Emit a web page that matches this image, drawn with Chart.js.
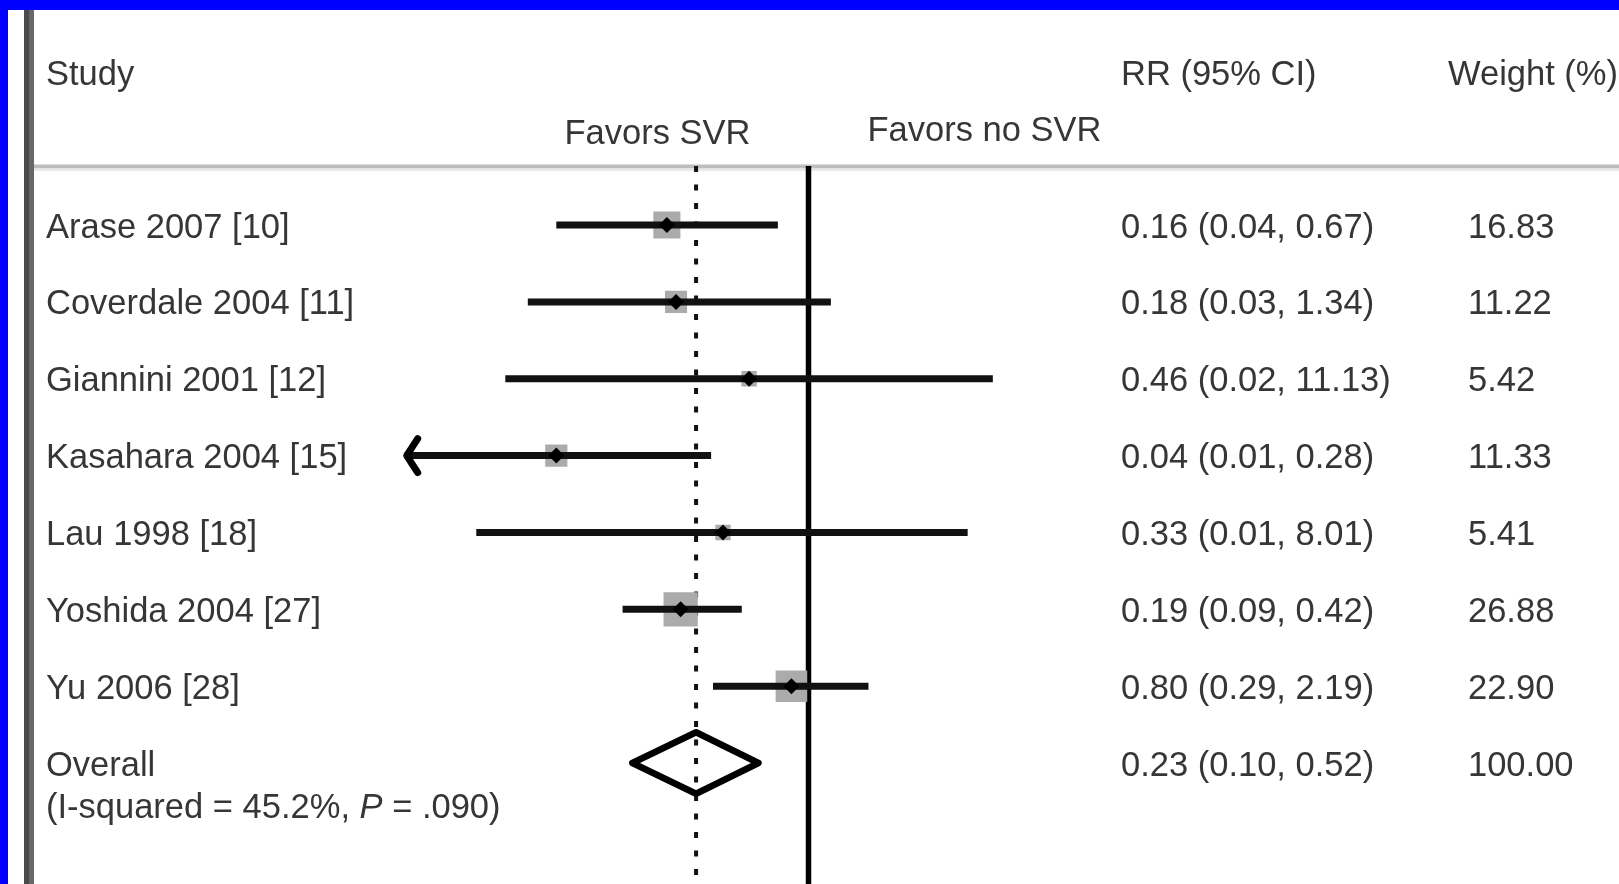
<!DOCTYPE html>
<html>
<head>
<meta charset="utf-8">
<title>Forest plot: SVR and risk ratio</title>
<script src="https://cdn.jsdelivr.net/npm/chart.js@4.4.0/dist/chart.umd.min.js"></script>
<style>
  html, body { margin: 0; padding: 0; background: #fff; overflow: hidden; }
  #wrap { position: relative; width: 1619px; height: 884px; }
  #forest { position: absolute; left: 0; top: 0; }
  .frame-top { position: absolute; left: 0; top: 0; width: 1619px; height: 10px; background: #0000ff; }
  .frame-left { position: absolute; left: 0; top: 0; width: 8px; height: 884px; background: #0000ff; }
  .rule-dark { position: absolute; left: 24px; top: 10px; width: 5px; height: 874px; background: #4a4a4a; }
  .rule-mid { position: absolute; left: 29px; top: 10px; width: 5px; height: 874px; background: #676767; }
</style>
</head>
<body>
<div id="wrap">
  <canvas id="forest" width="1619" height="884"></canvas>
  <div class="rule-dark"></div>
  <div class="rule-mid"></div>
  <div class="frame-top"></div>
  <div class="frame-left"></div>
</div>
<script>
// ---- study data ----
const studies = ['Arase 2007 [10]', 'Coverdale 2004 [11]', 'Giannini 2001 [12]',
                 'Kasahara 2004 [15]', 'Lau 1998 [18]', 'Yoshida 2004 [27]', 'Yu 2006 [28]'];
const riskRatio = [0.157, 0.177, 0.46, 0.037, 0.327, 0.188, 0.80];
const ciLower   = [0.037, 0.0255, 0.019, 0.00501, 0.013, 0.088, 0.287];
const ciUpper   = [0.67, 1.34, 11.13, 0.28, 8.01, 0.418, 2.19];
const weights   = [16.83, 11.22, 5.42, 11.33, 5.41, 26.88, 22.90];

// ---- pooled estimate ----
const overallLabel = 'Overall';
const overallRR = 0.23;
const overallLower = 0.10;
const overallUpper = 0.52;
const overallWeight = 100.00;
const heterogeneityText = ['(I-squared = 45.2%, ', 'P', ' = .090)'];

// ---- column headings ----
const headStudy = 'Study';
const headRR = 'RR (95% CI)';
const headWeight = 'Weight (%)';
const favorsLeft = 'Favors SVR';
const favorsRight = 'Favors no SVR';

// ---- styling ----
const FONT = '"Liberation Sans", Arial, Helvetica, sans-serif';
const FONT_SIZE = 34.5;
const TEXT_COLOR = '#363636';
const AXIS_MIN = 0.0051;          // left end of the log axis; CIs beyond get an arrow
const BOX_SCALE = 6.6;            // square side = BOX_SCALE * sqrt(weight)
const DIAMOND_HALF = 0.40;        // half height of the pooled diamond, in rows
const overallRow = studies.length;

const fmt = v => v.toFixed(2);

// ---- datasets ----
const datasets = [];

// weight boxes (drawn first, underneath)
datasets.push({
  data: riskRatio.map((v, i) => ({ x: v, y: i })),
  pointStyle: 'rect',
  pointRadius: weights.map(w => BOX_SCALE * Math.sqrt(w) / Math.SQRT2),
  pointBackgroundColor: '#ababab',
  pointBorderWidth: 0,
  showLine: false,
  order: 3
});

// confidence interval bars
studies.forEach((s, i) => {
  datasets.push({
    data: [{ x: ciLower[i], y: i }, { x: ciUpper[i], y: i }],
    showLine: true,
    borderColor: '#111',
    borderWidth: 7,
    borderCapStyle: 'butt',
    pointRadius: 0,
    order: 2
  });
});

// point estimates
datasets.push({
  data: riskRatio.map((v, i) => ({ x: v, y: i })),
  pointStyle: 'rectRot',
  pointRadius: 8,
  pointBackgroundColor: '#000',
  pointBorderWidth: 0,
  showLine: false,
  order: 1
});

// pooled diamond
datasets.push({
  data: [
    { x: overallLower, y: overallRow },
    { x: overallRR, y: overallRow - DIAMOND_HALF },
    { x: overallUpper, y: overallRow },
    { x: overallRR, y: overallRow + DIAMOND_HALF },
    { x: overallLower, y: overallRow }
  ],
  showLine: true,
  fill: false,
  tension: 0,
  borderColor: '#000',
  borderWidth: 6.5,
  borderJoinStyle: 'round',
  borderCapStyle: 'round',
  pointRadius: 0,
  order: 0
});

// ---- decorations: reference lines, arrows, text columns ----
const forestDecor = {
  id: 'forestDecor',
  beforeDraw(chart) {
    const ctx = chart.ctx;
    ctx.save();
    ctx.fillStyle = '#bdbdbd';
    ctx.fillRect(29, 164.5, 1619 - 29, 4);
    ctx.fillStyle = '#e8e8e8';
    ctx.fillRect(29, 168.5, 1619 - 29, 2.5);
    ctx.restore();
  },
  beforeDatasetsDraw(chart) {
    const ctx = chart.ctx, xs = chart.scales.x, area = chart.chartArea;
    ctx.save();
    // line of no effect
    const x1 = xs.getPixelForValue(1);
    ctx.strokeStyle = '#000';
    ctx.lineWidth = 5.5;
    ctx.beginPath();
    ctx.moveTo(x1, area.top);
    ctx.lineTo(x1, area.bottom);
    ctx.stroke();
    // dotted line at the pooled estimate
    const xo = xs.getPixelForValue(overallRR);
    ctx.strokeStyle = '#111';
    ctx.lineWidth = 4;
    ctx.setLineDash([6, 12.5]);
    ctx.beginPath();
    ctx.moveTo(xo, area.top);
    ctx.lineTo(xo, area.bottom);
    ctx.stroke();
    ctx.restore();
  },
  afterDatasetsDraw(chart) {
    const ctx = chart.ctx, xs = chart.scales.x, ys = chart.scales.y, area = chart.chartArea;
    ctx.save();

    // arrows where an interval runs past the axis
    ctx.strokeStyle = '#000';
    ctx.lineWidth = 7;
    ctx.lineJoin = 'round';
    ctx.lineCap = 'round';
    studies.forEach((s, i) => {
      const y = ys.getPixelForValue(i);
      if (ciLower[i] < xs.min) {
        const x = area.left;
        ctx.beginPath();
        ctx.moveTo(x + 13, y - 17);
        ctx.lineTo(x + 2, y);
        ctx.lineTo(x + 13, y + 17);
        ctx.stroke();
      }
      if (ciUpper[i] > xs.max) {
        const x = area.right;
        ctx.beginPath();
        ctx.moveTo(x - 13, y - 17);
        ctx.lineTo(x - 2, y);
        ctx.lineTo(x - 13, y + 17);
        ctx.stroke();
      }
    });

    // text
    const font = (style) => `${style || ''} ${FONT_SIZE}px ${FONT}`.trim();
    ctx.fillStyle = TEXT_COLOR;
    ctx.font = font();
    ctx.textBaseline = 'alphabetic';
    ctx.textAlign = 'left';

    const colStudy = 46, colRR = 1121, colWeight = 1468;
    const base = 12.5;

    // headings
    ctx.fillText(headStudy, colStudy, 85);
    ctx.fillText(headRR, colRR, 85);
    ctx.fillText(headWeight, 1448, 85);
    const x1 = xs.getPixelForValue(1);
    ctx.textAlign = 'right';
    ctx.fillText(favorsLeft, x1 - 58, 144);
    ctx.textAlign = 'left';
    ctx.fillText(favorsRight, x1 + 59, 141);

    // study rows
    studies.forEach((s, i) => {
      const y = ys.getPixelForValue(i) + base;
      ctx.fillText(s, colStudy, y);
      ctx.fillText(`${fmt(riskRatio[i])} (${fmt(ciLower[i])}, ${fmt(ciUpper[i])})`, colRR, y);
      ctx.fillText(fmt(weights[i]), colWeight, y);
    });

    // pooled row
    const yo = ys.getPixelForValue(overallRow) + base;
    ctx.fillText(overallLabel, colStudy, yo);
    ctx.fillText(`${fmt(overallRR)} (${fmt(overallLower)}, ${fmt(overallUpper)})`, colRR, yo);
    ctx.fillText(fmt(overallWeight), colWeight, yo);

    // heterogeneity line, with italic P
    let hx = colStudy;
    const yh = yo + 42;
    heterogeneityText.forEach((part, k) => {
      ctx.font = k === 1 ? font('italic') : font();
      ctx.fillText(part, hx, yh);
      hx += ctx.measureText(part).width;
    });

    ctx.restore();
  }
};

new Chart(document.getElementById('forest'), {
  type: 'scatter',
  data: { datasets },
  options: {
    responsive: false,
    animation: false,
    devicePixelRatio: 1,
    events: [],
    layout: { autoPadding: false, padding: { left: 404.7, right: 406.7, top: 166, bottom: 0 } },
    plugins: { legend: { display: false }, title: { display: false }, tooltip: { enabled: false } },
    scales: {
      x: { type: 'logarithmic', min: AXIS_MIN, max: 1 / AXIS_MIN, bounds: 'data', display: false },
      y: { type: 'linear', min: -0.768, max: 8.574, reverse: true, bounds: 'data', display: false }
    }
  },
  plugins: [forestDecor]
});
</script>
</body>
</html>
